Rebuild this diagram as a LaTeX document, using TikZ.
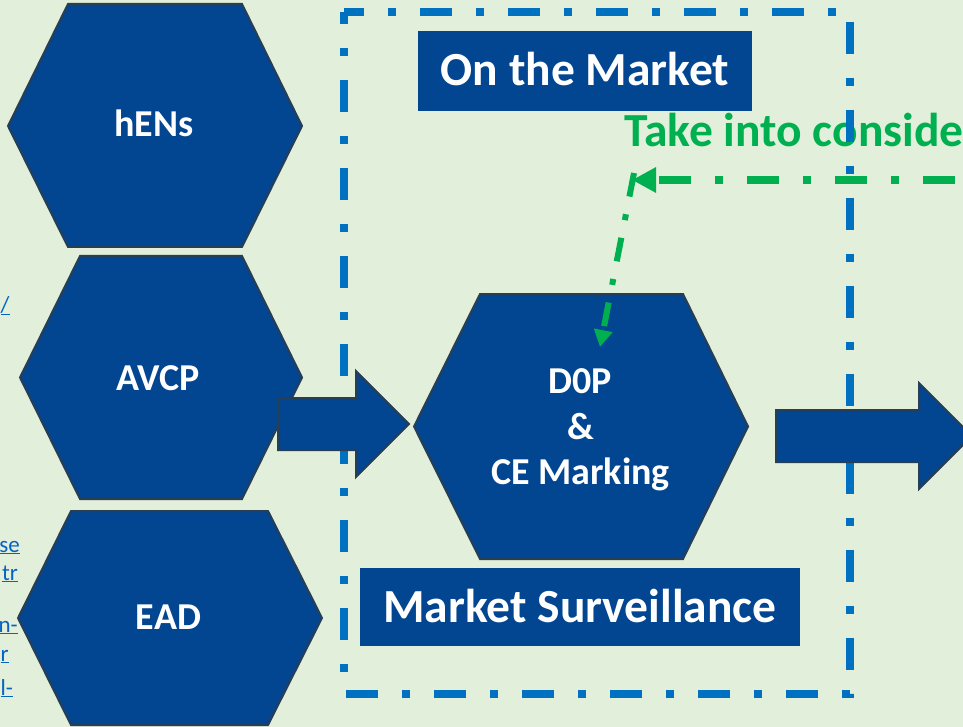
\documentclass[tikz,border=0pt]{standalone}
\usepackage{fontspec}
\setmainfont{Carlito}
\usetikzlibrary{arrows.meta}
\definecolor{bg}{RGB}{226,239,218}
\definecolor{hexfill}{RGB}{2,69,145}
\definecolor{hexline}{RGB}{40,62,85}
\definecolor{frameblue}{RGB}{0,112,192}
\definecolor{gr}{RGB}{0,176,80}
\definecolor{linkblue}{RGB}{5,99,193}
\begin{document}
\begin{tikzpicture}[x=1pt,y=-1pt,
  hexa/.style={fill=hexfill,draw=hexline,line width=2pt,line join=miter},
  hexlabel/.style={text=white,font=\fontsize{38}{46}\selectfont\bfseries,anchor=base,inner sep=0pt},
  banner/.style={fill=hexfill,text=white,font=\fontsize{47.5}{56}\selectfont\bfseries,inner sep=0pt,text height=30pt,text depth=0pt},
  linkfrag/.style={text=linkblue,font=\fontsize{23}{28}\selectfont,anchor=base east,inner sep=0pt},
  linkfragw/.style={text=linkblue,font=\fontsize{23}{28}\selectfont,anchor=base west,inner sep=0pt},
  blockarrow/.style={fill=hexfill,draw=hexline,line width=2pt,line join=miter},
  mframe/.style={draw=frameblue,line width=8pt,dash pattern=on 32pt off 24pt on 8pt off 24pt,dash phase=12pt},
  gbig/.style={draw=gr,line width=8pt,dash pattern=on 32pt off 24pt on 8pt off 24pt,dash phase=80pt,-{Triangle[length=24pt,width=24pt]}},
  gsmall/.style={draw=gr,line width=6pt,dash pattern=on 24pt off 18pt on 6pt off 18pt,-{Triangle[length=17pt,width=18pt]}}
]
\useasboundingbox (0,0) rectangle (963,727);
\fill[bg] (0,0) rectangle (963,727);
\clip (0,0) rectangle (963,727);

% cut-off link text at the left edge
\node[linkfragw] (f1) at (0.5,312) {\underline{/}};
\node[linkfrag] (f2) at (20,552) {\underline{se}};
\node[linkfrag] (f3) at (18,580) {\underline{tr}};
\node[linkfrag] (f4) at (18,632) {\underline{n-}};
\node[linkfragw] (f5) at (0.5,661) {\underline{r}};
\node[linkfragw] (f6) at (0.5,695) {\underline{l-}};

% green heading
\node[text=gr,font=\fontsize{47.5}{56}\selectfont\bfseries,anchor=base west,inner sep=0pt] (consider) at (624,147) {Take into conside};

% dash-dot frame
\draw[mframe] (344,12) -- (850,12) -- (850,694) -- (344,694) -- cycle;

% hexagons
\draw[hexa] (68,4) -- (242,4) -- (302,126) -- (242,247) -- (68,247) -- (8,126) -- cycle;
\draw[hexa] (80,256) -- (242,256) -- (302,377.5) -- (242,499) -- (80,499) -- (20,377.5) -- cycle;
\draw[hexa] (71,511) -- (268,511) -- (322,618) -- (268,725) -- (71,725) -- (18,618) -- cycle;
\draw[hexa] (480,294) -- (683,294) -- (748,426.5) -- (683,559) -- (480,559) -- (414,426.5) -- cycle;

\node[hexlabel] (hens) at (154,137) {hENs};
\node[hexlabel] (avcp) at (158,390) {AVCP};
\node[hexlabel] (ead) at (168.5,629) {EAD};
\node[hexlabel] (dop1) at (580.5,393) {D0P};
\node[hexlabel] (dop2) at (580.5,439) {\&};
\node[hexlabel] (dop3) at (580.5,484) {CE Marking};

% block arrows
\draw[blockarrow] (278,398) -- (356,398) -- (356,371) -- (409,424) -- (356,477) -- (356,450) -- (278,450) -- cycle;
\draw[blockarrow] (776,410) -- (919,410) -- (919,383) -- (972,436) -- (919,489) -- (919,462) -- (776,462) -- cycle;

% banners
\node[banner,minimum width=334pt,minimum height=80pt] (otm) at (585,71) {On the Market};
\node[banner,minimum width=440pt,minimum height=78pt] (ms) at (580,607) {Market Surveillance};

% green dash-dot arrows
\coordinate (gstart) at (963,180);
\coordinate (gcorner) at (632,180);
\coordinate (gbend) at (634,173);
\coordinate (dopin) at (600,347);
\draw[gbig] (gstart) -- (gcorner);
\draw[gsmall] (gbend) -- (dopin);
\end{tikzpicture}
\end{document}
